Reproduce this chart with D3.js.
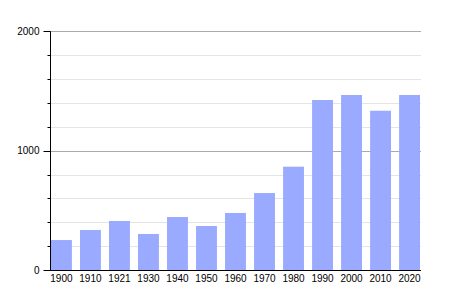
<!DOCTYPE html>
<html><head><meta charset="utf-8">
<script src="https://cdn.jsdelivr.net/npm/d3@7"></script>
<style>html,body{margin:0;padding:0;background:#fff;}svg{display:block;}</style>
</head><body>
<script>
const years = ["1900","1910","1921","1930","1940","1950","1960","1970","1980","1990","2000","2010","2020"];
const population = [251,335,411,302,444,369,478,645,866,1425,1467,1335,1467];
const majorTicks = [0,1000,2000];
const minorTicks = [200,400,600,800,1200,1400,1600,1800];

const W=450,H=300;
const svg=d3.select("body").append("svg").attr("width",W).attr("height",H);
const x=d3.scaleBand().domain(years).range([51,420]).paddingInner(0.28).paddingOuter(0);
const y=d3.scaleLinear().domain([0,2000]).range([270,31.4]);
const left=50,right=421;
const font="Liberation Sans, Arial, sans-serif";

// minor gridlines
svg.append("g").selectAll("line").data(minorTicks).join("line")
  .attr("x1",left).attr("x2",right).attr("y1",d=>Math.round(y(d))+0.5).attr("y2",d=>Math.round(y(d))+0.5)
  .attr("stroke","#e4e4e4").attr("stroke-width",1);
// major gridlines
svg.append("g").selectAll("line").data(majorTicks.filter(d=>d>0)).join("line")
  .attr("x1",left).attr("x2",right).attr("y1",d=>Math.round(y(d))+0.5).attr("y2",d=>Math.round(y(d))+0.5)
  .attr("stroke","#aaaaaa").attr("stroke-width",1);

// bars
svg.append("g").selectAll("rect").data(years).join("rect")
  .attr("x",d=>x(d)).attr("width",x.bandwidth())
  .attr("y",(d,i)=>y(population[i])).attr("height",(d,i)=>y(0)-y(population[i]))
  .attr("fill","#99aaff");

// y axis
const ya=svg.append("g").attr("transform",`translate(${left+0.5},0)`);
ya.append("line").attr("x1",0).attr("x2",0).attr("y1",y(2000)).attr("y2",y(0)).attr("stroke","#000");
ya.selectAll(".mi").data(minorTicks).join("line").attr("class","mi")
  .attr("x1",-3).attr("x2",0).attr("y1",d=>Math.round(y(d))+0.5).attr("y2",d=>Math.round(y(d))+0.5).attr("stroke","#000");
ya.selectAll(".ma").data(majorTicks).join("line").attr("class","ma")
  .attr("x1",-7).attr("x2",0).attr("y1",d=>Math.round(y(d))+0.5).attr("y2",d=>Math.round(y(d))+0.5).attr("stroke","#000");
ya.selectAll("text").data(majorTicks).join("text")
  .attr("x",-11).attr("y",d=>y(d)).attr("dy","0.35em").attr("text-anchor","end")
  .attr("font-family",font).attr("font-size",10).attr("fill","#000").text(d=>d);

// x axis
svg.append("line").attr("x1",left).attr("x2",right).attr("y1",270.5).attr("y2",270.5).attr("stroke","#000");
svg.append("g").selectAll("text").data(years).join("text")
  .attr("x",d=>x(d)+x.bandwidth()/2).attr("y",282).attr("text-anchor","middle")
  .attr("font-family",font).attr("font-size",10).attr("fill","#000").text(d=>d);
</script>
</body></html>
